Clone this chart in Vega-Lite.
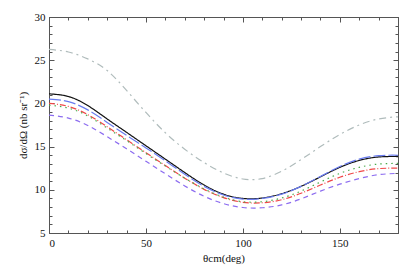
{
  "$schema": "https://vega.github.io/schema/vega-lite/v6.json",
  "width": 349,
  "height": 216,
  "autosize": {"type": "none"},
  "padding": {"left": 49, "top": 17, "right": 1, "bottom": 43},
  "config": {
    "view": {"stroke": null},
    "font": "Liberation Serif",
    "axis": {"domainColor": "#555", "tickColor": "#555", "labelColor": "#111", "titleColor": "#111", "labelFont": "Liberation Serif", "titleFont": "Liberation Serif", "labelFontSize": 11, "titleFontSize": 11, "titleFontWeight": "normal", "grid": false, "domainWidth": 1, "tickWidth": 1}
  },
  "datasets": {
    "curves": [
      {"s":"black","t":0,"v":21.1},{"s":"black","t":10,"v":20.8},{"s":"black","t":20,"v":19.75},{"s":"black","t":30,"v":18.2},{"s":"black","t":40,"v":16.65},{"s":"black","t":50,"v":15.1},{"s":"black","t":60,"v":13.55},{"s":"black","t":70,"v":12.0},{"s":"black","t":80,"v":10.55},{"s":"black","t":90,"v":9.5},{"s":"black","t":100,"v":9.0},{"s":"black","t":110,"v":9.05},{"s":"black","t":120,"v":9.55},{"s":"black","t":130,"v":10.4},{"s":"black","t":140,"v":11.5},{"s":"black","t":150,"v":12.6},{"s":"black","t":160,"v":13.4},{"s":"black","t":170,"v":13.8},{"s":"black","t":180,"v":13.85},
      {"s":"blue","t":0,"v":20.5},{"s":"blue","t":10,"v":20.2},{"s":"blue","t":20,"v":19.25},{"s":"blue","t":30,"v":17.8},{"s":"blue","t":40,"v":16.3},{"s":"blue","t":50,"v":14.85},{"s":"blue","t":60,"v":13.35},{"s":"blue","t":70,"v":11.8},{"s":"blue","t":80,"v":10.4},{"s":"blue","t":90,"v":9.4},{"s":"blue","t":100,"v":8.92},{"s":"blue","t":110,"v":9.0},{"s":"blue","t":120,"v":9.5},{"s":"blue","t":130,"v":10.4},{"s":"blue","t":140,"v":11.55},{"s":"blue","t":150,"v":12.7},{"s":"blue","t":160,"v":13.55},{"s":"blue","t":170,"v":13.95},{"s":"blue","t":180,"v":14.0},
      {"s":"red","t":0,"v":20.0},{"s":"red","t":10,"v":19.65},{"s":"red","t":20,"v":18.7},{"s":"red","t":30,"v":17.3},{"s":"red","t":40,"v":15.8},{"s":"red","t":50,"v":14.3},{"s":"red","t":60,"v":12.8},{"s":"red","t":70,"v":11.35},{"s":"red","t":80,"v":10.05},{"s":"red","t":90,"v":9.1},{"s":"red","t":100,"v":8.55},{"s":"red","t":110,"v":8.5},{"s":"red","t":120,"v":8.85},{"s":"red","t":130,"v":9.6},{"s":"red","t":140,"v":10.55},{"s":"red","t":150,"v":11.45},{"s":"red","t":160,"v":12.1},{"s":"red","t":170,"v":12.45},{"s":"red","t":180,"v":12.5},
      {"s":"green","t":0,"v":19.8},{"s":"green","t":10,"v":19.45},{"s":"green","t":20,"v":18.55},{"s":"green","t":30,"v":17.15},{"s":"green","t":40,"v":15.7},{"s":"green","t":50,"v":14.2},{"s":"green","t":60,"v":12.75},{"s":"green","t":70,"v":11.35},{"s":"green","t":80,"v":10.1},{"s":"green","t":90,"v":9.15},{"s":"green","t":100,"v":8.62},{"s":"green","t":110,"v":8.62},{"s":"green","t":120,"v":9.05},{"s":"green","t":130,"v":9.85},{"s":"green","t":140,"v":10.9},{"s":"green","t":150,"v":11.9},{"s":"green","t":160,"v":12.6},{"s":"green","t":170,"v":12.98},{"s":"green","t":180,"v":13.05},
      {"s":"purple","t":0,"v":18.65},{"s":"purple","t":10,"v":18.3},{"s":"purple","t":20,"v":17.45},{"s":"purple","t":30,"v":16.15},{"s":"purple","t":40,"v":14.75},{"s":"purple","t":50,"v":13.3},{"s":"purple","t":60,"v":11.85},{"s":"purple","t":70,"v":10.45},{"s":"purple","t":80,"v":9.25},{"s":"purple","t":90,"v":8.4},{"s":"purple","t":100,"v":7.95},{"s":"purple","t":110,"v":7.92},{"s":"purple","t":120,"v":8.25},{"s":"purple","t":130,"v":8.95},{"s":"purple","t":140,"v":9.85},{"s":"purple","t":150,"v":10.65},{"s":"purple","t":160,"v":11.3},{"s":"purple","t":170,"v":11.75},{"s":"purple","t":180,"v":11.9},
      {"s":"grey","t":0,"v":26.25},{"s":"grey","t":10,"v":25.95},{"s":"grey","t":20,"v":25.15},{"s":"grey","t":30,"v":23.8},{"s":"grey","t":40,"v":21.5},{"s":"grey","t":50,"v":18.95},{"s":"grey","t":60,"v":16.6},{"s":"grey","t":70,"v":14.7},{"s":"grey","t":80,"v":13.15},{"s":"grey","t":90,"v":11.95},{"s":"grey","t":100,"v":11.25},{"s":"grey","t":110,"v":11.3},{"s":"grey","t":120,"v":12.15},{"s":"grey","t":130,"v":13.5},{"s":"grey","t":140,"v":15.0},{"s":"grey","t":150,"v":16.4},{"s":"grey","t":160,"v":17.5},{"s":"grey","t":170,"v":18.2},{"s":"grey","t":180,"v":18.45}
    ]
  },
  "data": {"name": "curves"},
  "resolve": {"axis": {"x": "independent", "y": "independent"}},
  "layer": [
    {
      "mark": {"type": "line", "opacity": 0},
      "encoding": {
        "x": {"field": "t", "type": "quantitative", "scale": {"domain": [0, 180], "nice": false}, "axis": {"orient": "top", "values": [10,20,30,40,60,70,80,90,110,120,130,140,160,170], "labels": false, "tickSize": -3, "title": null, "domain": true}},
        "y": {"field": "v", "type": "quantitative", "scale": {"domain": [5, 30], "nice": false}, "axis": {"orient": "right", "values": [6,7,8,9,11,12,13,14,16,17,18,19,21,22,23,24,26,27,28,29], "labels": false, "tickSize": -3, "title": null}},
        "detail": {"field": "s"}
      }
    },
    {
      "mark": {"type": "line", "opacity": 0},
      "encoding": {
        "x": {"field": "t", "type": "quantitative", "scale": {"domain": [0, 180], "nice": false}, "axis": {"orient": "top", "values": [0,50,100,150], "labels": false, "tickSize": -5, "title": null}},
        "y": {"field": "v", "type": "quantitative", "scale": {"domain": [5, 30], "nice": false}, "axis": {"orient": "right", "values": [5,10,15,20,25,30], "labels": false, "tickSize": -5, "title": null}},
        "detail": {"field": "s"}
      }
    },
    {
      "mark": {"type": "line", "opacity": 0},
      "encoding": {
        "x": {"field": "t", "type": "quantitative", "scale": {"domain": [0, 180], "nice": false}, "axis": {"orient": "bottom", "values": [10,20,30,40,60,70,80,90,110,120,130,140,160,170], "labels": false, "tickSize": -3, "title": null}},
        "y": {"field": "v", "type": "quantitative", "scale": {"domain": [5, 30], "nice": false}, "axis": {"orient": "left", "values": [6,7,8,9,11,12,13,14,16,17,18,19,21,22,23,24,26,27,28,29], "labels": false, "tickSize": -3, "title": null}},
        "detail": {"field": "s"}
      }
    },
    {
      "mark": {"type": "line", "interpolate": "natural", "strokeWidth": 1.2},
      "encoding": {
        "x": {"field": "t", "type": "quantitative", "scale": {"domain": [0, 180], "nice": false}, "axis": {"orient": "bottom", "values": [0,50,100,150], "tickSize": -5, "labelPadding": 9, "title": "θcm(deg)", "titlePadding": 4}},
        "y": {"field": "v", "type": "quantitative", "scale": {"domain": [5, 30], "nice": false}, "axis": {"orient": "left", "values": [5,10,15,20,25,30], "tickSize": -5, "labelPadding": 9, "title": "dσ/dΩ (nb sr⁻¹)", "titlePadding": 6}},
        "color": {"field": "s", "type": "nominal", "legend": null, "scale": {"domain": ["black","blue","red","green","purple","grey"], "range": ["#111111","#6a7cf0","#f04848","#4aaa4a","#8c6cf0","#b0bcbc"]}},
        "strokeDash": {"field": "s", "type": "nominal", "legend": null, "scale": {"domain": ["black","blue","red","green","purple","grey"], "range": [[1,0],[12,3],[6,2,1,2],[1.5,4],[5,4],[7,4,2,4]]}}
      }
    }
  ]
}
